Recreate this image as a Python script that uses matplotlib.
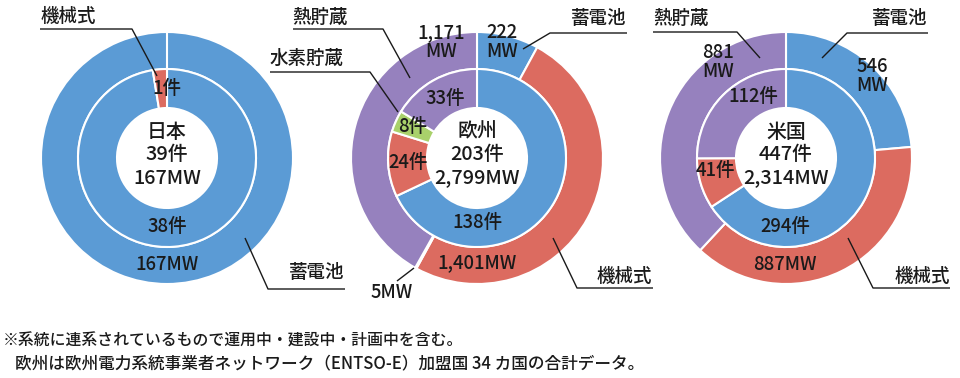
import matplotlib
matplotlib.use("Agg")
import matplotlib.pyplot as plt

plt.rcParams['font.family'] = ['Noto Sans CJK JP', 'DejaVu Sans']
plt.rcParams['font.weight'] = 'medium'

# data
regions = ['日本', '欧州', '米国']
categories = ['蓄電池', '機械式', '水素貯蔵', '熱貯蔵']
colors = ['#5B9BD5', '#DC6B60', '#A9D16B', '#9681BE']

# inner ring = 件数, outer ring = MW (category order as above)
jp_count = [38, 1, 0, 0]
jp_mw = [167, 0, 0, 0]
eu_count = [138, 24, 8, 33]
eu_mw = [222, 1401, 5, 1171]
us_count = [294, 41, 0, 112]
us_mw = [546, 887, 0, 881]

note1 = '※系統に連系されているもので運用中・建設中・計画中を含む。'
note2 = '欧州は欧州電力系統事業者ネットワーク（ENTSO-E）加盟国 34 カ国の合計データ。'

W, H = 960, 378
fig = plt.figure(figsize=(W / 100, H / 100), dpi=100)
ax = fig.add_axes([0, 0, 1, 1])


def Y(y):
    # pixel row (from top) -> data y
    return H - y


R_OUT, R_MID, R_HOLE = 126, 89, 50
centers = [(167, 158), (477, 158), (786, 158)]
edge = dict(edgecolor='white', linewidth=1.5)


def ring(vals, radius, width, center):
    v = [x for x in vals if x > 0]
    c = [colors[i] for i, x in enumerate(vals) if x > 0]
    ax.pie(v, colors=c, radius=radius, center=(center[0], Y(center[1])),
           startangle=90, counterclock=False,
           wedgeprops=dict(width=width, **edge))
    if len(v) == 1:
        # full ring still shows the seam at 12 o'clock
        ax.plot([center[0], center[0]], [Y(center[1]) + radius - width, Y(center[1]) + radius],
                color='white', lw=1.5)


for cnt, mw, cen in zip([jp_count, eu_count, us_count], [jp_mw, eu_mw, us_mw], centers):
    ring(mw, R_OUT, R_OUT - R_MID, cen)
    ring(cnt, R_MID, R_MID - R_HOLE, cen)

ax.set_xlim(0, W)
ax.set_ylim(0, H)
ax.set_aspect('equal')
ax.axis('off')

FS = 13.3


def txt(x, y, s, fs=FS, **kw):
    ax.text(x, Y(y), s, fontsize=fs, ha='center', va='center', color='#1a1a1a', **kw)


def leader(pts):
    ax.plot([p[0] for p in pts], [Y(p[1]) for p in pts], color='#1a1a1a', lw=1.0,
            solid_capstyle='butt')


def mw(v):
    return f'{v:,}MW'


# center totals
for name, cnt, m, cen in zip(regions, [jp_count, eu_count, us_count], [jp_mw, eu_mw, us_mw], centers):
    cx = cen[0]
    txt(cx, 132, name, fs=14.3)
    txt(cx, 155, f'{sum(cnt)}件', fs=14.3)
    txt(cx, 178, mw(sum(m)), fs=14.3)

# Japan
txt(167, 88, f'{jp_count[1]}件')
txt(167, 226, f'{jp_count[0]}件')
txt(167, 265, mw(jp_mw[0]))
txt(68, 17, categories[1])
leader([(40, 29), (132, 29), (157, 76)])
txt(317, 273, categories[0])
leader([(245, 238), (268, 289), (345, 289)])

# Europe
txt(441, 42, f'{eu_mw[3]:,}\nMW', linespacing=1.0)
txt(502, 42, f'{eu_mw[0]:,}\nMW', linespacing=1.0)
txt(445, 98, f'{eu_count[3]}件')
txt(413, 126, f'{eu_count[2]}件')
txt(408, 162, f'{eu_count[1]}件')
txt(477, 222, f'{eu_count[0]}件')
txt(477, 263, mw(eu_mw[1]))
txt(392, 292, mw(eu_mw[2]))
leader([(397, 281), (414, 268)])
txt(320, 17, categories[3])
leader([(293, 29), (383, 29), (410, 78)])
txt(307, 58, categories[2])
leader([(270, 72), (370, 72), (398, 112)])
txt(599, 18, categories[0])
leader([(627, 33), (550, 33), (523, 49)])
txt(624, 276, categories[1])
leader([(553, 238), (577, 288), (653, 288)])

# US
txt(718, 62, f'{us_mw[3]:,}\nMW', linespacing=1.05)
txt(872, 76, f'{us_mw[0]:,}\nMW', linespacing=1.0)
txt(753, 97, f'{us_count[3]}件')
txt(715, 170, f'{us_count[1]}件')
txt(785, 227, f'{us_count[0]}件')
txt(785, 265, mw(us_mw[1]))
txt(681, 18, categories[3])
leader([(653, 32), (737, 32), (760, 58)])
txt(900, 18, categories[0])
leader([(928, 33), (847, 33), (822, 58)])
txt(922, 276, categories[1])
leader([(848, 238), (873, 288), (950, 288)])

# footnote
ax.text(3, Y(341), note1, fontsize=11.4, ha='left', va='center', color='#1a1a1a')
ax.text(15, Y(363), note2, fontsize=12, ha='left', va='center', color='#1a1a1a')

fig.savefig('out.png', dpi=100)
